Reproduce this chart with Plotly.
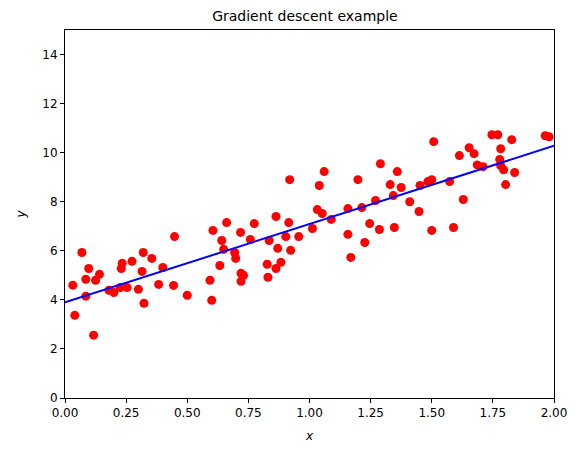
import plotly.graph_objects as go

# pontos (x, y)
x_data = [0.032, 0.040, 0.069, 0.085, 0.085, 0.097, 0.117, 0.125, 0.141, 0.180,
          0.200, 0.226, 0.230, 0.234, 0.254, 0.274, 0.300, 0.315, 0.320, 0.323,
          0.355, 0.383, 0.400, 0.444, 0.448, 0.500, 0.593, 0.600, 0.605, 0.633,
          0.641, 0.649, 0.661, 0.694, 0.698, 0.718, 0.720, 0.720, 0.730, 0.758,
          0.774, 0.827, 0.830, 0.835, 0.863, 0.863, 0.870, 0.883, 0.903, 0.915,
          0.919, 0.923, 0.956, 1.012, 1.032, 1.040, 1.052, 1.060, 1.089, 1.157,
          1.157, 1.169, 1.198, 1.214, 1.226, 1.246, 1.270, 1.286, 1.290, 1.330,
          1.343, 1.347, 1.359, 1.375, 1.410, 1.448, 1.452, 1.484, 1.500, 1.500,
          1.508, 1.573, 1.589, 1.613, 1.629, 1.653, 1.673, 1.686, 1.710, 1.746,
          1.770, 1.778, 1.782, 1.782, 1.794, 1.802, 1.827, 1.839, 1.964, 1.980]
y_data = [4.60, 3.37, 5.93, 4.15, 4.84, 5.28, 2.56, 4.80, 5.04, 4.39,
          4.30, 4.50, 5.28, 5.49, 4.50, 5.57, 4.43, 5.16, 5.93, 3.86,
          5.69, 4.63, 5.32, 4.59, 6.58, 4.19, 4.80, 3.98, 6.83, 5.40,
          6.42, 6.06, 7.15, 5.93, 5.69, 6.75, 5.08, 4.76, 5.00, 6.46,
          7.11, 5.45, 4.92, 6.42, 7.40, 5.28, 6.10, 5.53, 6.58, 7.15,
          8.90, 6.02, 6.58, 6.91, 7.68, 8.66, 7.52, 9.23, 7.28, 7.72,
          6.67, 5.73, 8.90, 7.76, 6.34, 7.11, 8.05, 6.87, 9.55, 8.70,
          8.25, 6.95, 9.23, 8.58, 8.00, 7.60, 8.66, 8.82, 8.90, 6.83,
          10.45, 8.82, 6.95, 9.88, 8.09, 10.20, 9.96, 9.50, 9.43, 10.73,
          10.73, 9.72, 10.16, 9.47, 9.30, 8.70, 10.53, 9.19, 10.69, 10.65]

# reta de predição
x_new = [0, 2]
y_predict = [3.90, 10.28]

fig = go.Figure()
fig.add_trace(go.Scatter(
    x=x_data, y=y_data, mode='markers',
    marker=dict(color='red', size=9, line=dict(width=0))
))
fig.add_trace(go.Scatter(
    x=x_new, y=y_predict, mode='lines',
    line=dict(color='blue', width=2)
))

axis_style = dict(
    showgrid=False, zeroline=False, showline=True, linecolor='black',
    linewidth=1, mirror=True, ticks='outside', ticklen=4, tickcolor='black',
    tickfont=dict(size=12, color='black'),
)

# a página tem 8px de margem no body, compensado aqui
fig.update_layout(
    width=571, height=445,
    margin=dict(l=50, r=25, t=22, b=54),
    plot_bgcolor='white', paper_bgcolor='white',
    showlegend=False,
    font=dict(family='DejaVu Sans', color='black'),
    title=dict(text='Gradient descent example', x=0.52, xanchor='center',
               y=1 - 8.5 / 445, yanchor='middle', font=dict(size=14)),
    xaxis=dict(range=[0, 2], tickvals=[0, 0.25, 0.5, 0.75, 1, 1.25, 1.5, 1.75, 2],
               ticktext=['0.00', '0.25', '0.50', '0.75', '1.00', '1.25', '1.50', '1.75', '2.00'],
               title=dict(text='<i>x</i>', font=dict(size=12), standoff=12), **axis_style),
    yaxis=dict(range=[0, 15], tickvals=[0, 2, 4, 6, 8, 10, 12, 14],
               title=dict(text='<i>y</i>', font=dict(size=12), standoff=14), **axis_style),
)

fig.write_html("out.html")
